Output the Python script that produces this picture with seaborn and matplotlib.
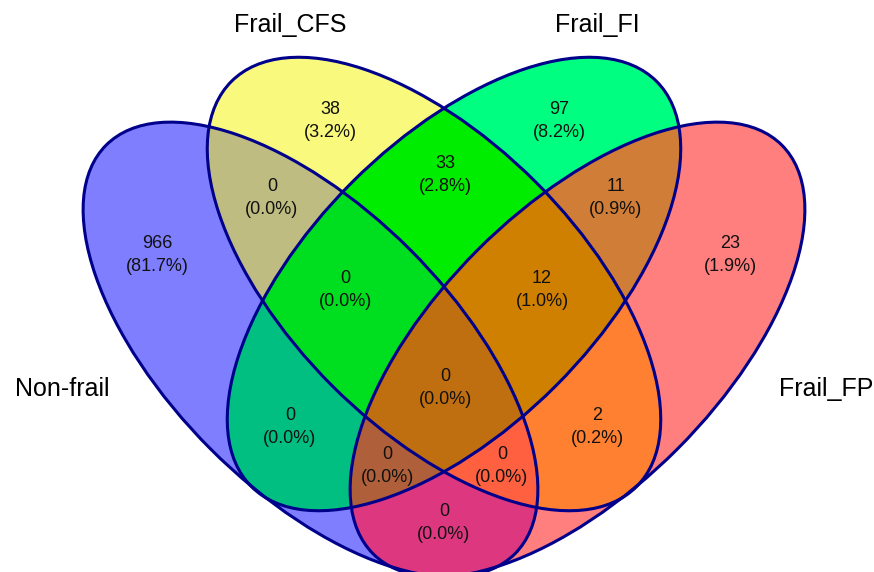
import numpy as np
import matplotlib
matplotlib.use("Agg")
import matplotlib.pyplot as plt
from matplotlib.patches import Ellipse
from matplotlib.colors import to_rgb
import seaborn as sns

# ---- data ----
set_names = ["Non-frail", "Frail_CFS", "Frail_FI", "Frail_FP"]
# region keys: membership in (Non-frail, CFS, FI, FP)
region_keys = ["1000", "0100", "0010", "0001",
               "1100", "1010", "1001", "0110", "0101", "0011",
               "1110", "1101", "1011", "0111", "1111"]
region_counts = [966, 38, 97, 23,
                 0, 0, 0, 33, 2, 11,
                 0, 0, 0, 12, 0]
region_colors = ["#7F7FFF", "#F9F97D", "#00FF80", "#FF7F7F",
                 "#BEBD80", "#00BF80", "#DD3880", "#00EE00", "#FF8030", "#D07F38",
                 "#00DF20", "#FF6040", "#B05F3A", "#D08000", "#C07010"]

# ---- layout (pixel space) ----
W, H = 874, 572
ell_centers = [(310.5, 349.5), (434, 284), (454, 284), (577.5, 349.5)]
ell_angles = [45, 45, -45, -45]
ell_axes = [(289, 141), (286.5, 144), (286.5, 144), (289, 141)]
label_pos = {
    "1000": (157, 255), "0100": (330, 121), "0010": (559, 121), "0001": (730, 255),
    "1100": (272, 198), "1010": (290, 427), "1001": (444, 523), "0110": (445, 175),
    "0101": (597, 427), "0011": (616, 198), "1110": (345, 290), "1101": (502, 466),
    "1011": (387, 466), "0111": (542, 290), "1111": (445, 388),
}
name_pos = [(62, 389), (290, 25), (597, 25), (826, 389)]

sns.set_theme(style="white")
plt.rcParams["font.family"] = ["Liberation Sans", "DejaVu Sans"]

fig = plt.figure(figsize=(W / 100, H / 100), dpi=100)
ax = fig.add_axes([0, 0, 1, 1])
ax.set_xlim(0, W)
ax.set_ylim(H, 0)
ax.axis("off")

# membership raster
ss = 3
xs = (np.arange(W * ss) + 0.5) / ss
ys = (np.arange(H * ss) + 0.5) / ss
X, Y = np.meshgrid(xs, ys)
members = []
for (cx, cy), ang, (ea, eb) in zip(ell_centers, ell_angles, ell_axes):
    t = np.deg2rad(ang)
    dx, dy = X - cx, Y - cy
    u = dx * np.cos(t) + dy * np.sin(t)
    v = -dx * np.sin(t) + dy * np.cos(t)
    members.append((u / ea) ** 2 + (v / eb) ** 2 <= 1)

img = np.ones((H * ss, W * ss, 3))
for key, col in zip(region_keys, region_colors):
    mask = np.ones_like(X, dtype=bool)
    for m, k in zip(members, key):
        mask &= m if k == "1" else ~m
    img[mask] = to_rgb(col)

ax.imshow(img, extent=(0, W, H, 0), interpolation="antialiased", zorder=1)

for (cx, cy), ang, (ea, eb) in zip(ell_centers, ell_angles, ell_axes):
    ax.add_patch(Ellipse((cx, cy), 2 * ea, 2 * eb, angle=ang,
                         fill=False, edgecolor="#00008B", lw=2.2, zorder=3))

total = sum(region_counts)
for key, cnt in zip(region_keys, region_counts):
    x, y = label_pos[key]
    ax.text(x, y, f"{cnt}\n({cnt / total * 100:.1f}%)", ha="center", va="center",
            fontsize=13, color="#111111", linespacing=1.45, zorder=4)

for name, (x, y) in zip(set_names, name_pos):
    ax.text(x, y, name, ha="center", va="center", fontsize=18, color="black", zorder=4)

fig.savefig("out.png", dpi=100)
